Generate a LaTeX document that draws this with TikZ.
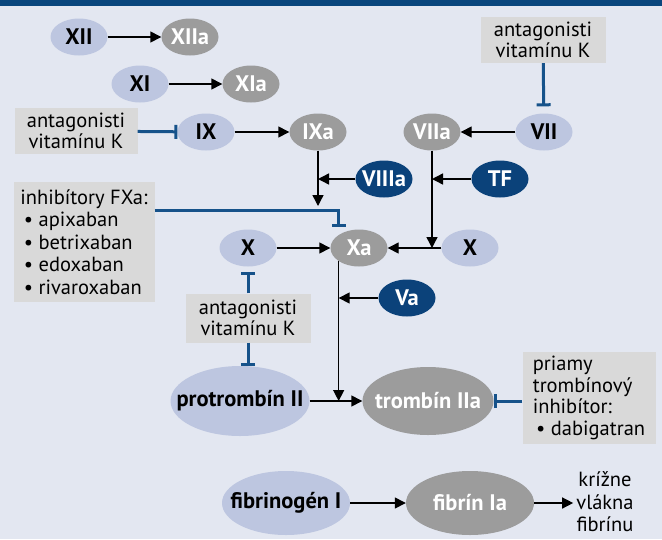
\documentclass[tikz,border=0pt]{standalone}
\usepackage{fontspec}
\setmainfont{PT Sans}
\usetikzlibrary{arrows.meta,shapes.geometric,calc}
\definecolor{BackClr}{RGB}{227,231,241}
\definecolor{BarClr}{RGB}{10,70,125}
\definecolor{PaleClr}{RGB}{189,198,224}
\definecolor{GreyClr}{RGB}{156,156,156}
\definecolor{DarkClr}{RGB}{11,66,122}
\definecolor{BoxClr}{RGB}{217,217,217}
\definecolor{InhClr}{RGB}{22,82,138}

\begin{document}
\begin{tikzpicture}[x=1pt,y=-1pt,
  factor/.style={ellipse,minimum width=57pt,minimum height=37pt,inner xsep=-15pt,inner ysep=0pt,
    font=\fontsize{22.5}{22.5}\selectfont\bfseries},
  pale/.style={factor,fill=PaleClr},
  grey/.style={factor,fill=GreyClr,text=white},
  dark/.style={factor,fill=DarkClr,text=white},
  drugbox/.style={fill=BoxClr,inner sep=4pt,align=center,
    font=\fontsize{20.5}{21.5}\selectfont},
  act/.style={line width=1.4pt,-{Triangle[length=11pt,width=11pt]}},
  inh/.style={line width=3pt,draw=InhClr,-{Bar[width=14pt,line width=3pt]}}]
\useasboundingbox (0,0) rectangle (662,539);
\fill[BackClr] (0,0) rectangle (662,539);
\fill[BarClr] (0,0) rectangle (662,6);

\node[pale] (XII) at (79,37) {XII};
\node[grey] (XIIa) at (190,37) {XIIa};
\node[pale] (XI) at (140,84) {XI};
\node[grey] (XIa) at (251,84) {XIa};
\node[pale] (IX) at (206,132) {IX};
\node[grey] (IXa) at (318,132) {IXa};
\node[grey] (VIIa) at (432,132) {VIIa};
\node[pale] (VII) at (544,132) {VII};
\node[dark] (VIIIa) at (384,179) {VIIIa};
\node[dark] (TF) at (500,179) {TF};
\node[pale] (Xl) at (248,248) {X};
\node[grey] (Xa) at (359,248) {Xa};
\node[pale] (Xr) at (470,248) {X};
\node[dark] (Va) at (407,298) {Va};
\node[pale,minimum width=139pt,minimum height=70pt] (FII) at (240,401) {protrombín II};
\node[grey,minimum width=131pt,minimum height=68pt] (FIIa) at (428,401) {trombín IIa};
\node[pale,minimum width=128pt,minimum height=64pt] (FI) at (286,503) {fibrinogén I};
\node[grey,minimum width=128pt,minimum height=64pt] (FIa) at (470,503) {fibrín Ia};
\node[align=center,inner sep=3pt,font=\fontsize{20.5}{22.5}\selectfont] (strands) at (605,502)
  {krížne\\vlákna\\fibrínu};

\node[drugbox,minimum width=125pt,minimum height=46pt] (vkTop) at (543,40)
  {antagonisti\\vitamínu K};
\node[drugbox,minimum width=123pt,minimum height=46pt] (vkLeft) at (76,131)
  {antagonisti\\vitamínu K};
\node[drugbox,minimum width=125pt,minimum height=49pt] (vkMid) at (248,318)
  {antagonisti\\vitamínu K};
\node[drugbox,align=left,minimum width=141pt,minimum height=120pt,
  font=\fontsize{20.5}{22.5}\selectfont] (fxa) at (84,242)
  {inhibítory FXa:\\ \,\textbullet\ apixaban\\ \,\textbullet\ betrixaban\\
   \,\textbullet\ edoxaban\\ \,\textbullet\ rivaroxaban};
\node[drugbox,align=left,minimum width=133pt,minimum height=92pt] (dti) at (589,398)
  {priamy\\trombínový\\inhibítor:\\ \,\textbullet\ dabigatran};

\coordinate (tIX) at (318,206);
\coordinate (kXa) at (Xa.213);
\coordinate (kFXa) at (kXa |- 0,210);

\draw[act] (XII) -- (XIIa);
\draw[act] (XI) -- (XIa);
\draw[act] (IX) -- (IXa);
\draw[act] (VII) -- (VIIa);
\draw[act] (IXa) -- (tIX);
\draw[act] (VIIIa) -- (VIIIa -| tIX);
\draw[act] (VIIa) -- (VIIa |- Xr);
\draw[act] (TF) -- (TF -| VIIa);
\draw[act] (Xl) -- (Xa);
\draw[act] (Xr) -- (Xa);
\draw[act] (kXa) -- (kXa |- FII);
\draw[act] (Va) -- (Va -| kXa);
\draw[act] (FII) -- (FIIa);
\draw[act] (FI) -- (FIa);
\draw[act] (FIa) -- (FIa -| strands.west);

\draw[inh] (vkLeft) -- (IX);
\draw[inh,shorten >=7pt] (vkTop) -- (VII);
\draw[inh] (fxa.east |- kFXa) -- (kFXa) -- ($(kXa |- Xa.north)+(0,-2)$);
\draw[inh,shorten >=5pt] (vkMid) -- (Xl);
\draw[inh] (vkMid) -- (vkMid |- FII.north);
\draw[inh] (dti.west |- FIIa) -- (FIIa);

\end{tikzpicture}
\end{document}
